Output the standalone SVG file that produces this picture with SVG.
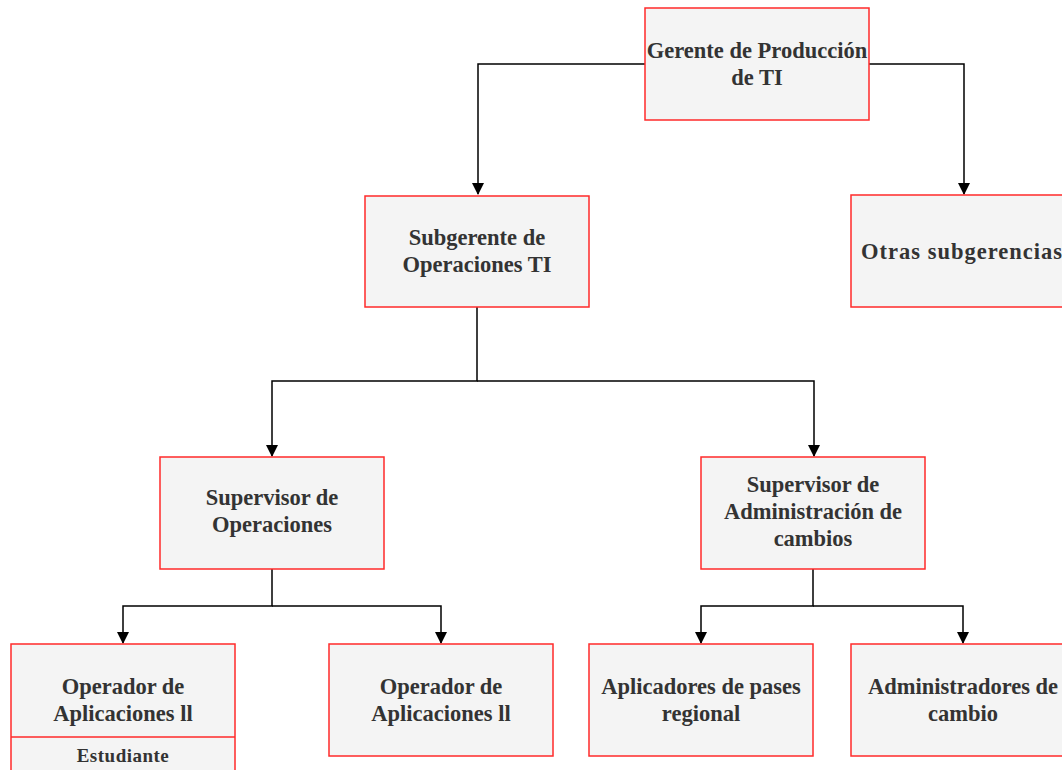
<svg xmlns="http://www.w3.org/2000/svg" width="1062" height="770" viewBox="0 0 1062 770">
  <style>
    .box { fill: #f4f4f4; stroke: #ff2a2a; stroke-width: 1.5; }
    .lbl { font-family: "Liberation Serif", "Times New Roman", serif; font-weight: bold; font-size: 22.5px; fill: #333; text-anchor: middle; }
    .wide { letter-spacing: 1px; }
    .small { font-size: 19px; letter-spacing: 0.5px; }
    .edge { fill: none; stroke: #000; stroke-width: 1.5; }
  </style>
  <defs>
    <marker id="arrow" viewBox="0 0 12 12" refX="11" refY="6" markerWidth="12" markerHeight="12" markerUnits="userSpaceOnUse" orient="auto">
      <path d="M0,0 L12,6 L0,12 Z" fill="#000"/>
    </marker>
  </defs>
  <rect width="1062" height="770" fill="#fff"/>

  <g id="connectors">
    <path class="edge" d="M645,64 H478 V194" marker-end="url(#arrow)"/>
    <path class="edge" d="M869,64 H964 V194" marker-end="url(#arrow)"/>
    <path class="edge" d="M477,307 V381 H272 V456" marker-end="url(#arrow)"/>
    <path class="edge" d="M477,381 H814 V456" marker-end="url(#arrow)"/>
    <path class="edge" d="M272,569 V606 H123 V643" marker-end="url(#arrow)"/>
    <path class="edge" d="M272,606 H441 V643" marker-end="url(#arrow)"/>
    <path class="edge" d="M813,569 V606 H701 V643" marker-end="url(#arrow)"/>
    <path class="edge" d="M813,606 H963 V643" marker-end="url(#arrow)"/>
  </g>

  <g id="gerente">
    <rect class="box" x="645" y="8" width="224" height="112"/>
    <text class="lbl" x="757" y="58">Gerente de Producción</text>
    <text class="lbl" x="757" y="85">de TI</text>
  </g>

  <g id="otras">
    <rect class="box" x="851" y="195" width="224" height="112"/>
    <text class="lbl wide" x="962" y="259">Otras subgerencias</text>
  </g>

  <g id="subgerente">
    <rect class="box" x="365" y="196" width="224" height="111"/>
    <text class="lbl" x="477" y="245">Subgerente de</text>
    <text class="lbl" x="477" y="272">Operaciones TI</text>
  </g>

  <g id="sup-operaciones">
    <rect class="box" x="160" y="457" width="224" height="112"/>
    <text class="lbl" x="272" y="505">Supervisor de</text>
    <text class="lbl" x="272" y="532">Operaciones</text>
  </g>

  <g id="sup-cambios">
    <rect class="box" x="701" y="457" width="224" height="112"/>
    <text class="lbl" x="813" y="492">Supervisor de</text>
    <text class="lbl" x="813" y="519">Administración de</text>
    <text class="lbl" x="813" y="546">cambios</text>
  </g>

  <g id="operador-1">
    <rect class="box" x="11" y="644" width="224" height="140"/>
    <line x1="11" y1="737" x2="235" y2="737" stroke="#ff2a2a" stroke-width="1.5"/>
    <text class="lbl" x="123" y="694">Operador de</text>
    <text class="lbl" x="123" y="721">Aplicaciones ll</text>
    <text class="lbl small" x="123" y="762">Estudiante</text>
  </g>

  <g id="operador-2">
    <rect class="box" x="329" y="644" width="224" height="112"/>
    <text class="lbl" x="441" y="694">Operador de</text>
    <text class="lbl" x="441" y="721">Aplicaciones ll</text>
  </g>

  <g id="aplicadores">
    <rect class="box" x="589" y="644" width="224" height="112"/>
    <text class="lbl" x="701" y="694">Aplicadores de pases</text>
    <text class="lbl" x="701" y="721">regional</text>
  </g>

  <g id="administradores">
    <rect class="box" x="851" y="644" width="224" height="112"/>
    <text class="lbl" x="963" y="694">Administradores de</text>
    <text class="lbl" x="963" y="721">cambio</text>
  </g>
</svg>
